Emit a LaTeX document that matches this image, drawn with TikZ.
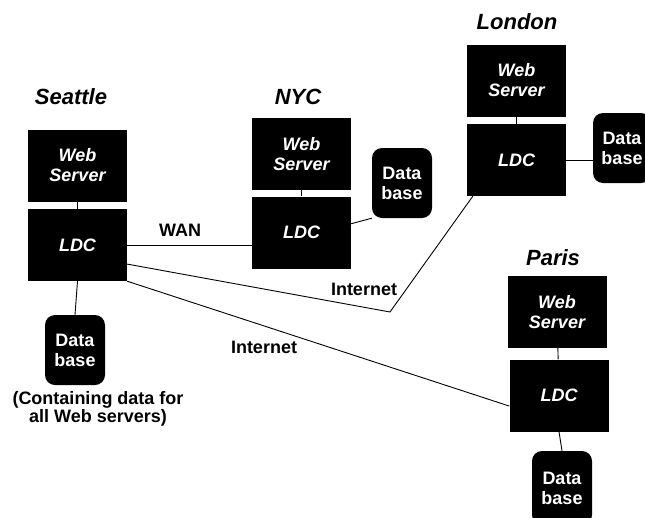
\documentclass[tikz,border=0pt]{standalone}
\usepackage{fontspec}
\setmainfont{Liberation Sans}
\usetikzlibrary{calc}
\tikzset{
  netbox/.style={rectangle, fill=black, text=white, minimum width=99pt,
                 minimum height=72pt, inner sep=0pt, align=center,
                 font=\fontsize{18}{20}\selectfont\bfseries\itshape},
  netdb/.style={rectangle, rounded corners=10pt, fill=black, text=white,
                minimum width=60pt, minimum height=70pt, inner sep=0pt,
                align=center, font=\fontsize{18}{20}\selectfont\bfseries},
  netcity/.style={font=\fontsize{22}{24}\selectfont\bfseries\itshape},
  netnote/.style={align=center, font=\fontsize{18}{18}\selectfont\bfseries},
  netlink/.style={draw, line width=0.9pt}
}
\begin{document}
\begin{tikzpicture}[x=1pt, y=-1pt]
  \clip (0,0) rectangle (645,517);
  % Seattle
  \node[netcity] (seattle) at (71,97) {Seattle};
  \node[netbox] (sws) at (77.5,165.5) {Web\\Server};
  \node[netbox] (sldc) at (77.5,245) {LDC};
  \node[netdb] (sdb) at (75,350) {Data\\base};
  \node[netnote] (scap) at (98,409) {(Containing data for\\all Web servers)};
  % NYC
  \node[netcity] (nyc) at (298,97) {NYC};
  \node[netbox] (nws) at (301.5,154) {Web\\Server};
  \node[netbox] (nldc) at (301.5,232.5) {LDC};
  \node[netdb] (ndb) at (402,183) {Data\\base};
  % London
  \node[netcity] (london) at (517,22) {London};
  \node[netbox] (lws) at (516.5,80.5) {Web\\Server};
  \node[netbox] (lldc) at (516.5,160) {LDC};
  \node[netdb, minimum width=58pt] (ldb) at (622,148) {Data\\base};
  % Paris
  \node[netcity] (paris) at (553,258) {Paris};
  \node[netbox] (pws) at (557,312) {Web\\Server};
  \node[netbox] (pldc) at (559,395.5) {LDC};
  \node[netdb, minimum height=74pt] (pdb) at (562,488) {Data\\base};
  % links
  \foreach \s in {s,n,l,p} { \draw[netlink] (\s ws) -- (\s ldc); }
  \foreach \s in {s,p} { \draw[netlink] (\s ldc.south) -- (\s db.north); }
  \draw[netlink] (nldc.10) -- (ndb.south west);
  \draw[netlink] (lldc.east) -- (lldc.east -| ldb.west);
  \draw[netlink] (sldc.east) -- (sldc.east -| nldc.west);
  \coordinate (ibend) at (390,312);
  \draw[netlink] (sldc.-21) -- (ibend) -- ($(lldc.south west)+(6,0)$);
  \draw[netlink] (sldc.south east) -- (pldc.192);
  \node[netnote] (wan) at (180,230) {WAN};
  \node[netnote] (inet1) at (364,289) {Internet};
  \node[netnote] (inet2) at (264,347) {Internet};
\end{tikzpicture}
\end{document}
